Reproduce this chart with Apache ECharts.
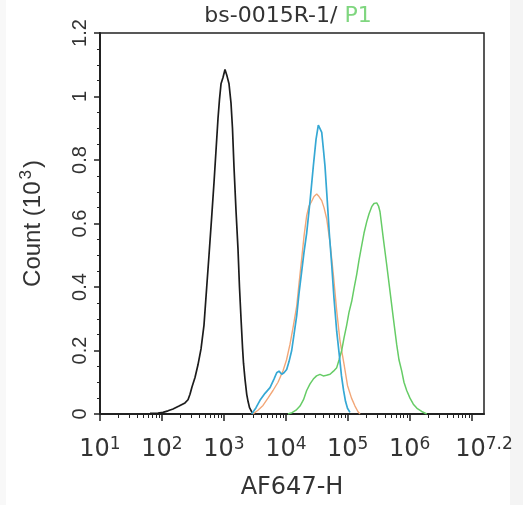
<!DOCTYPE html>
<html>
<head>
<meta charset="utf-8">
<script src="https://cdn.jsdelivr.net/npm/echarts@6/dist/echarts.min.js"></script>
<style>
html,body{margin:0;padding:0;background:#fff;}
#chart{width:523px;height:505px;}
</style>
</head>
<body>
<div id="chart"></div>
<script>
// x values are log10(AF647-H intensity); y values are Count (10^3)
const xMin = 1, xMax = 7.2;
const xMajorTicks = [1, 2, 3, 4, 5, 6, 7];
const xLabelValues = [1, 2, 3, 4, 5, 6, 7.2];
const xLabelExponents = ['1', '2', '3', '4', '5', '6', '7.2'];
const yMin = 0, yMax = 1.2, yInterval = 0.2;

const titleMain = 'bs-0015R-1/ ';
const titleSample = 'P1';
const xName = 'AF647-H';

const blackCurve = [
  [1.807,0.002],[1.936,0.003],[2.017,0.005],[2.098,0.010],[2.179,0.016],[2.276,0.025],
  [2.372,0.035],[2.421,0.045],[2.453,0.062],[2.485,0.085],[2.534,0.115],[2.582,0.155],
  [2.631,0.205],[2.679,0.280],[2.723,0.400],[2.760,0.500],[2.803,0.620],[2.841,0.730],
  [2.873,0.830],[2.905,0.930],[2.929,0.990],[2.954,1.040],[2.986,1.060],[3.018,1.085],
  [3.050,1.065],[3.083,1.040],[3.115,0.980],[3.139,0.900],[3.163,0.780],[3.196,0.640],
  [3.228,0.520],[3.252,0.400],[3.277,0.300],[3.301,0.210],[3.317,0.160],[3.341,0.110],
  [3.369,0.062],[3.390,0.040],[3.414,0.020],[3.446,0.008],[3.478,0.000]
];
const orangeCurve = [
  [3.470,0.000],[3.551,0.012],[3.632,0.027],[3.712,0.050],[3.793,0.074],[3.874,0.100],
  [3.955,0.136],[4.011,0.170],[4.068,0.220],[4.124,0.280],[4.176,0.340],[4.213,0.410],
  [4.257,0.490],[4.294,0.560],[4.337,0.625],[4.374,0.655],[4.418,0.670],[4.455,0.685],
  [4.499,0.693],[4.536,0.685],[4.580,0.672],[4.617,0.650],[4.660,0.615],[4.714,0.540],
  [4.767,0.440],[4.822,0.325],[4.875,0.230],[4.940,0.157],[4.996,0.090],[5.061,0.050],
  [5.117,0.025],[5.166,0.007],[5.198,0.000]
];
const greenCurve = [
  [4.035,0.000],[4.100,0.004],[4.165,0.012],[4.229,0.025],[4.286,0.045],[4.337,0.074],
  [4.391,0.095],[4.444,0.110],[4.496,0.120],[4.552,0.125],[4.605,0.120],[4.657,0.122],
  [4.714,0.125],[4.770,0.135],[4.822,0.146],[4.859,0.170],[4.902,0.200],[4.940,0.240],
  [4.983,0.280],[5.020,0.320],[5.064,0.355],[5.101,0.395],[5.145,0.440],[5.182,0.485],
  [5.225,0.530],[5.263,0.570],[5.306,0.605],[5.343,0.630],[5.387,0.653],[5.424,0.663],
  [5.468,0.665],[5.497,0.655],[5.521,0.637],[5.574,0.553],[5.629,0.470],[5.682,0.387],
  [5.736,0.302],[5.790,0.219],[5.828,0.170],[5.871,0.136],[5.908,0.100],[5.952,0.074],
  [6.005,0.050],[6.059,0.031],[6.118,0.018],[6.194,0.008],[6.275,0.000]
];
const blueCurve = [
  [3.449,0.000],[3.519,0.020],[3.583,0.043],[3.664,0.065],[3.745,0.083],[3.809,0.110],
  [3.853,0.130],[3.890,0.135],[3.934,0.125],[3.971,0.130],[4.014,0.140],[4.052,0.165],
  [4.095,0.200],[4.132,0.250],[4.176,0.310],[4.213,0.380],[4.257,0.450],[4.294,0.510],
  [4.337,0.570],[4.391,0.670],[4.444,0.780],[4.488,0.865],[4.525,0.910],[4.544,0.915],
  [4.580,0.887],[4.609,0.830],[4.633,0.780],[4.670,0.670],[4.702,0.570],[4.741,0.470],
  [4.778,0.365],[4.822,0.260],[4.867,0.180],[4.899,0.120],[4.932,0.075],[4.964,0.040],
  [4.996,0.018],[5.036,0.005]
];

// log-spaced minor tick positions (2..9 within each decade)
const xMinorTicks = [];
for (let d = 1; d < 8; d++) {
  for (let k = 2; k <= 9; k++) {
    const v = d + Math.log10(k);
    if (v < xMax) xMinorTicks.push(+v.toFixed(4));
  }
}

const hFont = 'DejaVu Sans';
const vFont = 'Liberation Sans';
const ink = '#222';

const chart = echarts.init(document.getElementById('chart'), null, {renderer: 'canvas'});
chart.setOption({
  backgroundColor: '#fff',
  animation: false,
  grid: {left: 100, top: 33, right: 39, bottom: 88, show: true, borderColor: ink, borderWidth: 1.5, backgroundColor: 'transparent'},
  graphic: [
    {type: 'rect', left: 510, top: 0, shape: {width: 13, height: 505}, style: {fill: '#f4f4f4'}, z: -10, silent: true},
    {type: 'rect', left: 0, top: 0, shape: {width: 6, height: 505}, style: {fill: '#f8f8f8'}, z: -10, silent: true},
    {type: 'text', x: 288, y: 16, style: {
      text: '{a|' + titleMain + '}{g|' + titleSample + '}',
      align: 'center', verticalAlign: 'middle',
      rich: {
        a: {fontFamily: hFont, fontSize: 22, fill: '#333'},
        g: {fontFamily: hFont, fontSize: 22, fill: '#7fd67f'}
      }
    }}
  ],
  xAxis: [
    {
      type: 'value', min: xMin, max: xMax, position: 'bottom',
      name: xName, nameLocation: 'middle', nameGap: 62,
      nameTextStyle: {fontFamily: hFont, fontSize: 24, color: '#333'},
      splitLine: {show: false},
      axisLine: {show: true, lineStyle: {color: ink, width: 2}},
      axisTick: {show: true, inside: false, length: 7, customValues: xMajorTicks, lineStyle: {color: ink, width: 1.5}},
      axisLabel: {
        show: true, margin: 22, customValues: xLabelValues, color: '#333',
        formatter: function (v) {
          let idx = xLabelValues.findIndex(function (x) { return Math.abs(x - v) < 1e-6; });
          if (idx < 0) return '';
          return '{b|10}{s|' + xLabelExponents[idx] + '}';
        },
        rich: {
          b: {fontFamily: hFont, fontSize: 24, lineHeight: 28, color: '#333'},
          s: {fontFamily: hFont, fontSize: 17, lineHeight: 17, verticalAlign: 'top', color: '#333'}
        }
      }
    },
    {
      type: 'value', min: xMin, max: xMax, position: 'bottom',
      splitLine: {show: false},
      axisLine: {show: false},
      axisLabel: {show: false},
      axisTick: {show: true, inside: false, length: 4, customValues: xMinorTicks, lineStyle: {color: ink, width: 1}}
    }
  ],
  yAxis: {
    type: 'value', min: yMin, max: yMax, interval: yInterval,
    name: '{c|Count (10}{s|3}{c|)}', nameLocation: 'middle', nameGap: 52, nameRotate: 90,
    nameTextStyle: {
      rich: {
        c: {fontFamily: vFont, fontSize: 24, color: '#333', lineHeight: 30},
        s: {fontFamily: vFont, fontSize: 17, color: '#333', lineHeight: 17, verticalAlign: 'top', padding: [0, 2, 0, 2]}
      }
    },
    splitLine: {show: false},
    axisLine: {show: true, lineStyle: {color: ink, width: 2}},
    axisTick: {show: true, inside: false, length: 6, lineStyle: {color: ink, width: 1.5}},
    minorTick: {show: true, splitNumber: 4, length: 3, lineStyle: {color: ink, width: 1}},
    axisLabel: {
      rotate: 90, margin: 10, fontFamily: vFont, fontSize: 20, color: '#333',
      formatter: function (v) { return String(+v.toFixed(1)); }
    }
  },
  series: [
    {type: 'line', name: 'isotype', data: blackCurve, showSymbol: false, smooth: false, lineStyle: {color: '#1c1c1c', width: 1.7}, z: 3},
    {type: 'line', name: 'orange', data: orangeCurve, showSymbol: false, smooth: false, lineStyle: {color: '#f2a778', width: 1.4}, z: 3},
    {type: 'line', name: 'P1', data: greenCurve, showSymbol: false, smooth: false, lineStyle: {color: '#66cc66', width: 1.5}, z: 4},
    {type: 'line', name: 'blue', data: blueCurve, showSymbol: false, smooth: false, lineStyle: {color: '#35a8d4', width: 1.7}, z: 5}
  ]
});
</script>
</body>
</html>
